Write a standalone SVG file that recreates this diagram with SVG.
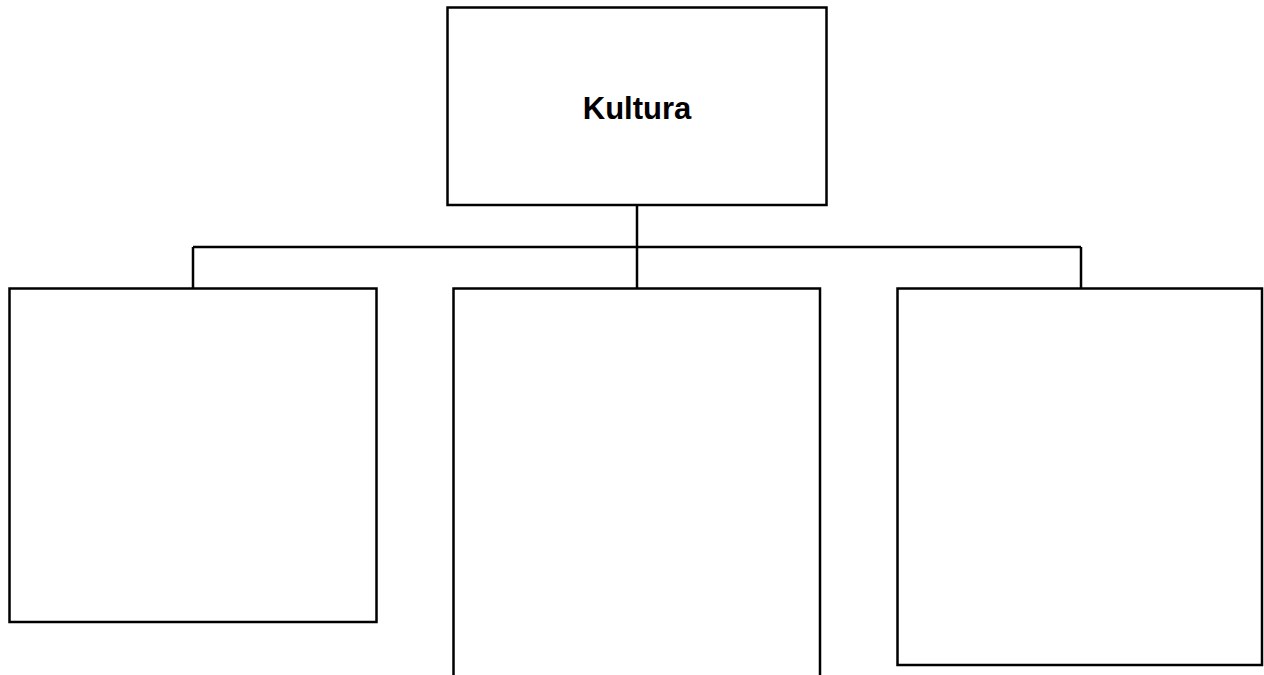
<svg xmlns="http://www.w3.org/2000/svg" width="1264" height="675" viewBox="0 0 1264 675">
<style>
.box{fill:#fff;stroke:#000;stroke-width:2.5}
.conn{fill:none;stroke:#000;stroke-width:2.5}
.lbl{font-family:"Liberation Sans",Arial,sans-serif;font-weight:bold;font-size:31px;fill:#000;text-anchor:middle}
</style>
<rect width="1264" height="675" fill="#fff"/>
<g id="connectors">
<path class="conn" d="M637,205 V288 M193,247 H1081 M193,247 V288 M1081,247 V288"/>
</g>
<g id="node-kultura">
<rect class="box" x="447.5" y="7.5" width="379" height="197.5"/>
<text class="lbl" x="637" y="119">Kultura</text>
</g>
<g id="node-left">
<rect class="box" x="9.5" y="288.5" width="367" height="333.5"/>
</g>
<g id="node-middle">
<rect class="box" x="453.5" y="288.5" width="366.5" height="420"/>
</g>
<g id="node-right">
<rect class="box" x="897.5" y="288.5" width="364.5" height="376.5"/>
</g>
</svg>
